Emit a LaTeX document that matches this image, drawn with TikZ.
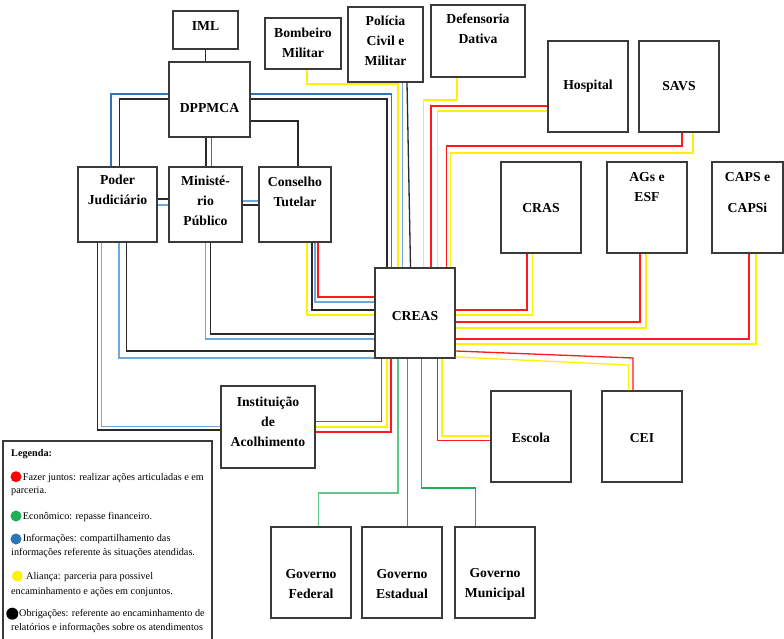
\documentclass[tikz,border=0pt]{standalone}
\usepackage{fontspec}
\setmainfont{Liberation Serif}
\definecolor{boxc}{HTML}{3A3A3A}
\definecolor{cred}{HTML}{FF1A1A}
\definecolor{cyel}{HTML}{FFF200}
\definecolor{cblu}{HTML}{2E75B6}
\definecolor{clbl}{HTML}{6FA8DC}
\definecolor{cgrn}{HTML}{1DB055}
\definecolor{clgr}{HTML}{5CC98A}
\definecolor{cblk}{HTML}{2A2A2A}
\begin{document}
\begin{tikzpicture}[x=1pt,y=-1pt,
  box/.style={draw=boxc, line width=1.3pt, fill=white, inner sep=0pt},
  lab/.style={font=\bfseries\fontsize{13.7}{20}\selectfont, align=center, inner sep=0pt},
  leg/.style={font=\fontsize{10.2}{12}\selectfont, anchor=west, inner sep=0pt},
  ln/.style={line width=1.3pt},
  rd/.style={ln, draw=cred},
  yl/.style={ln, draw=cyel},
  bl/.style={ln, draw=cblu},
  lb/.style={ln, draw=clbl},
  gr/.style={ln, draw=cgrn},
  lg/.style={ln, draw=clgr},
  bk/.style={ln, draw=cblk}]
\useasboundingbox (0,0) rectangle (784,639);
\fill[white] (0,0) rectangle (784,639);

% boxes
\node[box, minimum width=65, minimum height=38] (iml) at (205.5,30) {};
\node[box, minimum width=81, minimum height=75] (dpp) at (209.5,99.5) {};
\node[box, minimum width=79, minimum height=75] (poder) at (117.5,204.5) {};
\node[box, minimum width=73, minimum height=75] (min) at (205.5,204.5) {};
\node[box, minimum width=72, minimum height=75] (cons) at (295,204.5) {};
\node[box, minimum width=76, minimum height=51] (bomb) at (303,43.5) {};
\node[box, minimum width=75, minimum height=75] (pol) at (385.5,44.5) {};
\node[box, minimum width=94, minimum height=72] (def) at (478,41) {};
\node[box, minimum width=80, minimum height=91] (hosp) at (588,86.5) {};
\node[box, minimum width=80, minimum height=91] (savs) at (679,86.5) {};
\node[box, minimum width=80, minimum height=91] (cras) at (541,207.5) {};
\node[box, minimum width=80, minimum height=91] (ags) at (647,207.5) {};
\node[box, minimum width=71, minimum height=91] (caps) at (747.5,207.5) {};
\node[box, minimum width=80, minimum height=90] (creas) at (415,313) {};
\node[box, minimum width=80, minimum height=91] (escola) at (531,436.5) {};
\node[box, minimum width=80, minimum height=91] (cei) at (642,436.5) {};
\node[box, minimum width=94, minimum height=82] (inst) at (268,427) {};
\node[box, minimum width=80, minimum height=91] (govf) at (311,572.5) {};
\node[box, minimum width=80, minimum height=91] (gove) at (402,572.5) {};
\node[box, minimum width=80, minimum height=91] (govm) at (495,572.5) {};

% box texts
\node[lab] (imlT) at (205.5,26) {IML};
\node[lab] (dppT) at (209.5,108) {DPPMCA};
\node[lab] (poderT) at (117.5,190) {Poder\\Judiciário};
\node[lab] (minT) at (205.5,201) {Ministé-\\rio\\Público};
\node[lab] (consT) at (295,191.5) {Conselho\\Tutelar};
\node[lab] (bombT) at (303,43) {Bombeiro\\Militar};
\node[lab] (polT) at (385.5,41) {Polícia\\Civil e\\Militar};
\node[lab] (defT) at (478,29) {Defensoria\\Dativa};
\node[lab] (hospT) at (588,86) {Hospital};
\node[lab] (savsT) at (679,86) {SAVS};
\node[lab] (crasT) at (541,208) {CRAS};
\node[lab] (agsT) at (647,187.5) {AGs e\\ESF};
\node[lab] (capsT) at (747.5,192.5) {CAPS e\\[11pt]CAPSi};
\node[lab] (creasT) at (415,316) {CREAS};
\node[lab] (escolaT) at (531,438) {Escola};
\node[lab] (ceiT) at (642,438) {CEI};
\node[lab] (instT) at (268,422) {Instituição\\de\\Acolhimento};
\node[lab] (govfT) at (311,584) {Governo\\Federal};
\node[lab] (goveT) at (402,584) {Governo\\Estadual};
\node[lab] (govmT) at (495,584) {Governo\\Municipal};

% DPPMCA links
\draw[bk] (iml.south -| 205.7,0) -- (dpp.north -| 205.7,0);
\draw[bl] (dpp.west |- 0,94) -| (poder.north -| 111,0);
\draw[bk] (dpp.west |- 0,99) -| (poder.north -| 119.5,0);
\draw[bk] (dpp.south -| 206,0) -- (min.north -| 206,0);
\draw[bl] (dpp.south -| 211.7,0) -- (min.north -| 211.7,0);
\draw[bk] (dpp.east |- 0,121) -| (cons.north -| 298,0);
\draw[bk] (dpp.east |- 0,99) -| (creas.north -| 387,0);
\draw[bl] (dpp.east |- 0,94) -| (creas.north -| 391.5,0);

% side links
\draw[bk] (poder.east |- 0,199) -- (min.west |- 0,199);
\draw[lb] (poder.east |- 0,205) -- (min.west |- 0,205);
\draw[lb] (min.east |- 0,201) -- (cons.west |- 0,201);
\draw[bk] (min.east |- 0,205) -- (cons.west |- 0,205);

% top links into CREAS
\draw[yl] (bomb.south -| 307,0) |- (398,84) -- (creas.north -| 398,0);
\draw[lb] (pol.south -| 402.5,0) -- (creas.north -| 402.5,0);
\draw[bk] (pol.south -| 407,0) -- (creas.north -| 410.5,0);
\draw[yl] (def.south -| 457,0) |- (423.5,100) -- (creas.north -| 423.5,0);
\draw[rd] (hosp.west |- 0,106) -| (creas.north -| 431,0);
\draw[yl] (hosp.west |- 0,111) -| (creas.north -| 437.5,0);
\draw[rd] (savs.south -| 682,0) |- (446.5,146) -- (creas.north -| 446.5,0);
\draw[yl] (savs.south -| 693,0) |- (450.5,153) -- (creas.north -| 450.5,0);

% right links
\draw[rd] (cras.south -| 527,0) |- (creas.east |- 0,310);
\draw[yl] (cras.south -| 532.5,0) |- (creas.east |- 0,315);
\draw[rd] (ags.south -| 640,0) |- (creas.east |- 0,322);
\draw[yl] (ags.south -| 646,0) |- (creas.east |- 0,328);
\draw[rd] (caps.south -| 749,0) |- (creas.east |- 0,339);
\draw[yl] (caps.south -| 756,0) |- (creas.east |- 0,344);
\draw[rd] (creas.east |- 0,351) -- (633,358) -- (cei.north -| 633,0);
\draw[yl] (creas.east |- 0,357) -- (628.5,365) -- (cei.north -| 628.5,0);

% bottom links
\draw[rd] (creas.south -| 437.5,0) |- (escola.west |- 0,440.5);
\draw[yl] (creas.south -| 442,0) |- (escola.west |- 0,436);
\draw[lg] (creas.south -| 398,0) |- (318.5,493) -- (govf.north -| 318.5,0);
\draw[gr] (creas.south -| 407.5,0) -- (gove.north -| 407.5,0);
\draw[gr] (creas.south -| 421.5,0) |- (475.5,488) -- (govm.north -| 475.5,0);
\draw[bl] (creas.south -| 381.5,0) |- (inst.east |- 0,421.5);
\draw[yl] (creas.south -| 387,0) |- (inst.east |- 0,427);
\draw[rd] (creas.south -| 391,0) |- (inst.east |- 0,432);

% left links
\draw[rd] (cons.south -| 318,0) |- (creas.west |- 0,297);
\draw[lb] (cons.south -| 315,0) |- (creas.west |- 0,302);
\draw[bk] (cons.south -| 312,0) |- (creas.west |- 0,310);
\draw[yl] (cons.south -| 307,0) |- (creas.west |- 0,315);
\draw[bk] (min.south -| 210.7,0) |- (creas.west |- 0,334);
\draw[lb] (min.south -| 205.5,0) |- (creas.west |- 0,339);
\draw[bk] (poder.south -| 126.5,0) |- (creas.west |- 0,351);
\draw[lb] (poder.south -| 119,0) |- (creas.west |- 0,358);
\draw[lb] (poder.south -| 101.5,0) |- (inst.west |- 0,426.5);
\draw[bk] (poder.south -| 97.3,0) |- (inst.west |- 0,430);

% legend
\draw[draw=boxc, line width=1.3pt, fill=white] (3,441) rectangle (212,650);
\node[leg, font=\bfseries\fontsize{10.2}{12}\selectfont] (lgT) at (11,454.3) {Legenda:};
\fill[red] (16,476.7) circle (5.5);
\node[leg] (lg1a) at (22.7,478.3) {Fazer juntos: realizar ações articuladas e em};
\node[leg] (lg1b) at (11,491) {parceria.};
\fill[cgrn] (16,516) circle (5.5);
\node[leg] (lg2a) at (22.7,516.5) {Econômico: repasse financeiro.};
\fill[cblu] (16,539) circle (5.5);
\node[leg] (lg3a) at (22.7,539.3) {Informações: compartilhamento das};
\node[leg] (lg3b) at (11,553.3) {informações referente às situações atendidas.};
\fill[yellow] (17.3,576) circle (5.5);
\node[leg] (lg4a) at (26,576.7) {Aliança: parceria para possivel};
\node[leg] (lg4b) at (11,591.7) {encaminhamento e ações em conjuntos.};
\fill[black] (12.3,613.7) circle (6);
\node[leg] (lg5a) at (19,614.3) {Obrigações: referente ao encaminhamento de};
\node[leg] (lg5b) at (11,628.3) {relatórios e informações sobre os atendimentos};
\end{tikzpicture}
\end{document}
